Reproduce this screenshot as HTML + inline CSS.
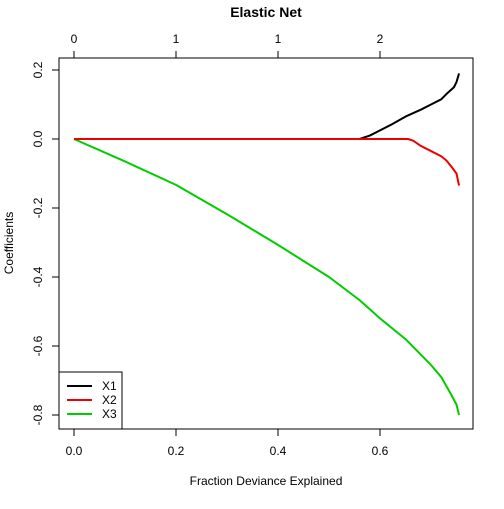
<!DOCTYPE html>
<html><head><meta charset="utf-8"><style>
body{margin:0;background:#fff}
svg{font-family:"Liberation Sans",Arial,sans-serif}
</style></head><body>
<svg id="chart" width="504" height="504" viewBox="0 0 504 504">
<rect width="504" height="504" fill="#fff"/>
<text x="266" y="17" text-anchor="middle" font-size="14" font-weight="bold">Elastic Net</text>
<rect x="59" y="58" width="414" height="371" fill="none" stroke="#000"/>
<g id="xaxis"></g>
<g id="topaxis"></g>
<g id="yaxis"></g>
<text x="266" y="485" text-anchor="middle" font-size="12">Fraction Deviance Explained</text>
<text transform="translate(13,243) rotate(-90)" text-anchor="middle" font-size="12">Coefficients</text>
<g id="lines"></g>
<g>
<rect x="59" y="372" width="63" height="57" fill="#fff" stroke="#000"/>
<line x1="67" y1="386" x2="92" y2="386" stroke="#000" stroke-width="2"/>
<text x="102" y="390" font-size="12">X1</text>
<line x1="67" y1="400" x2="92" y2="400" stroke="#e00" stroke-width="2"/>
<text x="102" y="404" font-size="12">X2</text>
<line x1="67" y1="414" x2="92" y2="414" stroke="#0c0" stroke-width="2"/>
<text x="102" y="418" font-size="12">X3</text>
</g>
</svg>
<script>
const xTicks=[0,0.2,0.4,0.6];
const xTickLabels=["0.0","0.2","0.4","0.6"];
const topTickLabels=["0","1","1","2"];
const yTicks=[0.2,0,-0.2,-0.4,-0.6,-0.8];
const yTickLabels=["0.2","0.0","-0.2","-0.4","-0.6","-0.8"];
const x1X=[0,0.56,0.58,0.6,0.62,0.65,0.68,0.7,0.72,0.73,0.745,0.75,0.755];
const x1Y=[0,0,0.01,0.025,0.04,0.065,0.085,0.1,0.115,0.13,0.15,0.165,0.19];
const x2X=[0,0.655,0.665,0.68,0.7,0.72,0.73,0.74,0.75,0.755];
const x2Y=[0,0,-0.005,-0.02,-0.035,-0.05,-0.062,-0.08,-0.1,-0.135];
const x3X=[0,0.1,0.2,0.3,0.4,0.5,0.56,0.6,0.65,0.7,0.72,0.74,0.75,0.755];
const x3Y=[0,-0.065,-0.133,-0.218,-0.307,-0.4,-0.467,-0.52,-0.58,-0.655,-0.69,-0.742,-0.77,-0.8];
const NS='http://www.w3.org/2000/svg';
const sx=v=>74+v*510, sy=v=>139-v*345;
function mk(t,a,p){const e=document.createElementNS(NS,t);for(const k in a)e.setAttribute(k,a[k]);p.appendChild(e);return e;}
const xa=document.getElementById('xaxis'),ta=document.getElementById('topaxis'),ya=document.getElementById('yaxis'),ln=document.getElementById('lines');
mk('line',{x1:sx(0),x2:sx(0.6),y1:429,y2:429,stroke:'#000'},xa);
mk('line',{x1:sx(0),x2:sx(0.6),y1:58,y2:58,stroke:'#000'},ta);
xTicks.forEach((v,i)=>{
 let l=mk('line',{x1:sx(v),x2:sx(v),y1:429,y2:436,stroke:'#000'},xa);
 
 
 let t=mk('text',{x:sx(v),y:455,'text-anchor':'middle','font-size':12},xa);t.textContent=xTickLabels[i];
 
 
 let l2=mk('line',{x1:sx(v),x2:sx(v),y1:58,y2:51,stroke:'#000'},ta);
 
 
 let t2=mk('text',{x:sx(v),y:43,'text-anchor':'middle','font-size':12},ta);t2.textContent=topTickLabels[i];
 
 
});
mk('line',{x1:59,x2:59,y1:sy(0.2),y2:sy(-0.8),stroke:'#000'},ya);
yTicks.forEach((v,i)=>{
 let l=mk('line',{x1:52,x2:59,y1:sy(v),y2:sy(v),stroke:'#000'},ya);
 
 
 let t=mk('text',{'text-anchor':'middle','font-size':12,transform:`translate(42,${sy(v)}) rotate(-90)`},ya);t.textContent=yTickLabels[i];
 
 
});
function series(xs,ys,c,n){
 const p=mk('polyline',{points:xs.map((x,i)=>sx(x)+','+sy(ys[i])).join(' '),fill:'none',stroke:c,'stroke-width':2,'stroke-linejoin':'round'},ln);
 
 
}
series(x3X,x3Y,'#0c0','line-x3');
series(x1X,x1Y,'#000','line-x1');
series(x2X,x2Y,'#e00','line-x2');
</script>
</body></html>
